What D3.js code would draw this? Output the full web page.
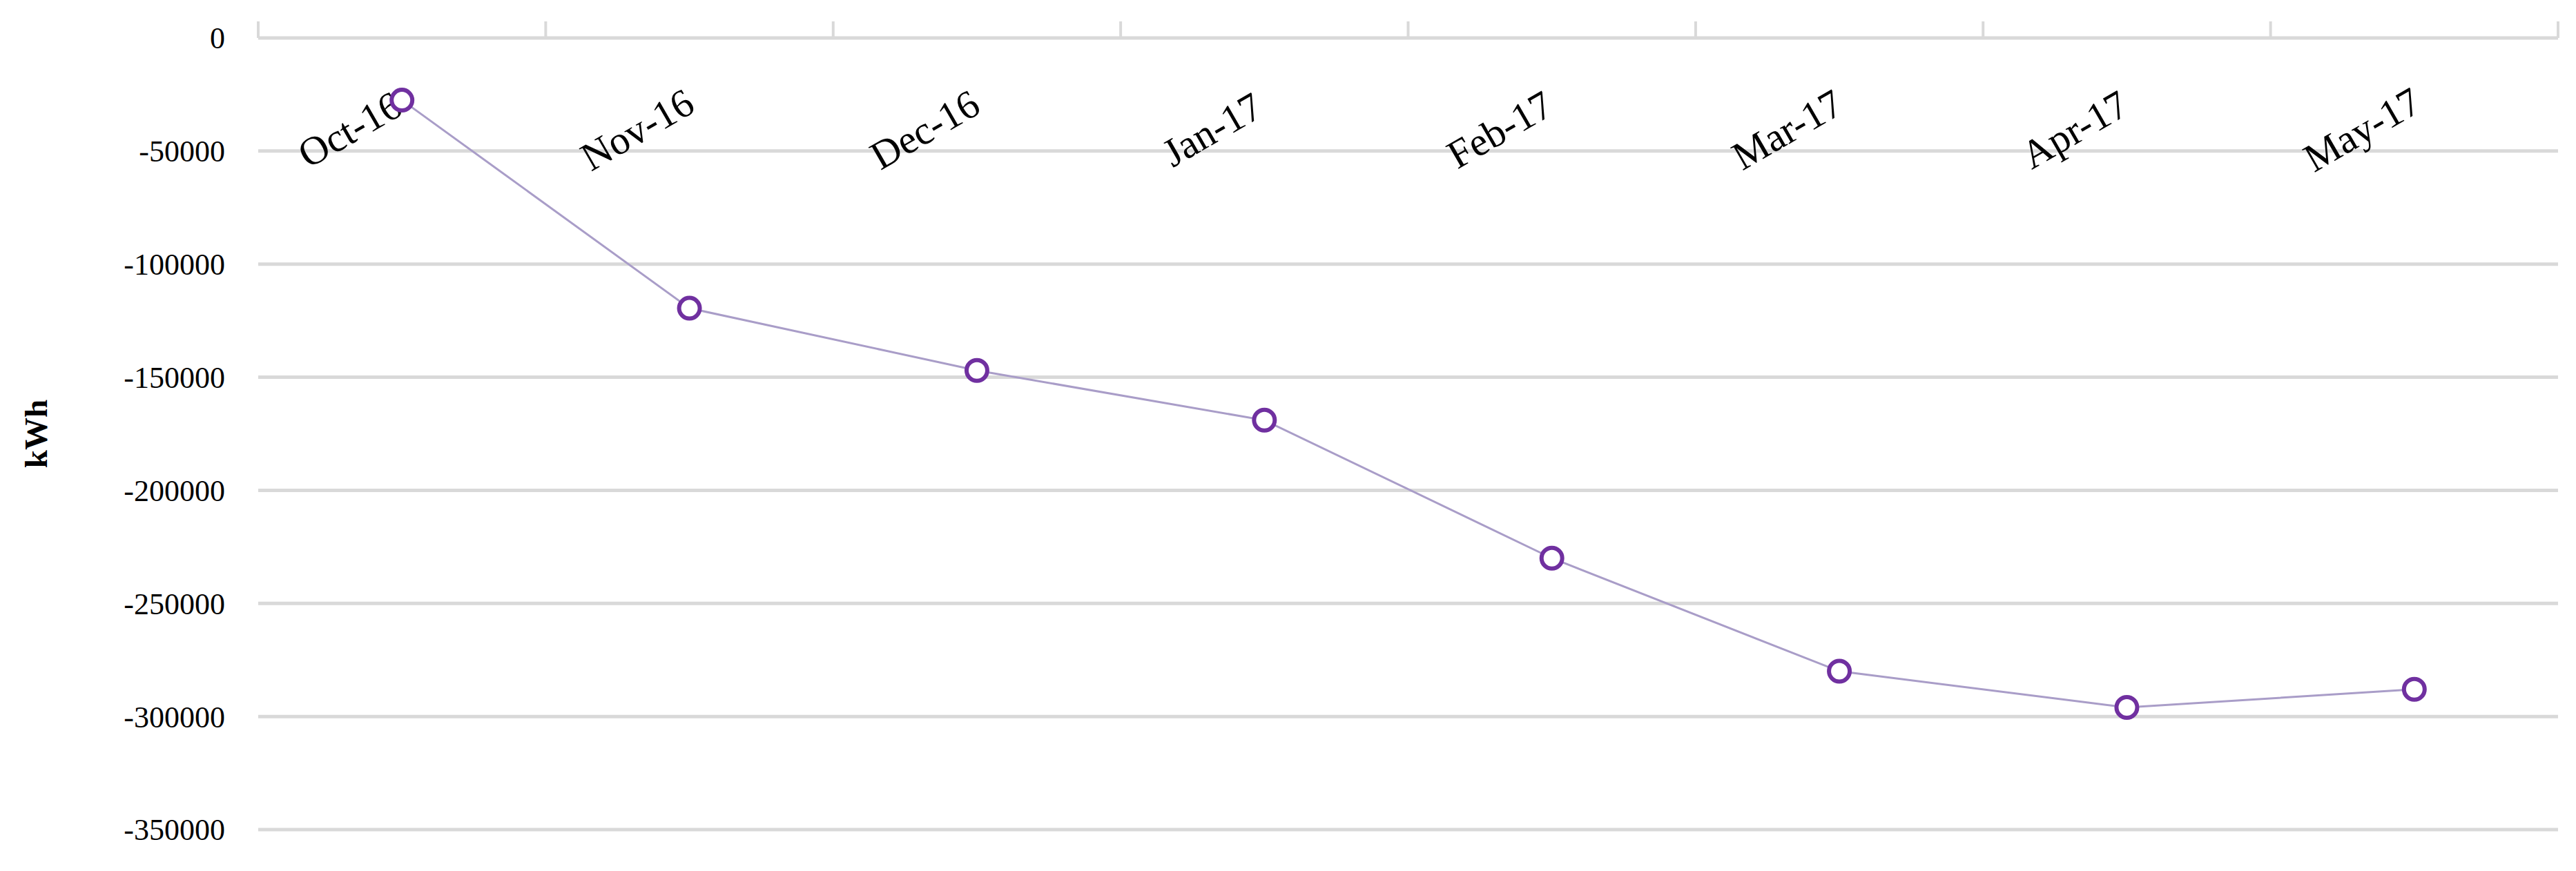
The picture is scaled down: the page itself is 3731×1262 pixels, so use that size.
<!DOCTYPE html>
<html><head><meta charset="utf-8">
<script src="https://cdn.jsdelivr.net/npm/d3@7"></script>
<style>body{margin:0;background:#fff}</style></head>
<body><svg id="c" width="3731" height="1262"></svg>
<script>
const categories=["Oct-16","Nov-16","Dec-16","Jan-17","Feb-17","Mar-17","Apr-17","May-17"];
const values=[-27500,-119500,-147000,-169000,-230000,-280000,-296000,-288000];
const yTicks=[0,-50000,-100000,-150000,-200000,-250000,-300000,-350000];
const svg=d3.select("#c");
const L=374,R=3705,T=55,B=1202;
const x=d3.scaleBand().domain(categories).range([L,R]);
const y=d3.scaleLinear().domain([-350000,0]).range([B,T]);
const font="'Liberation Serif','DejaVu Serif',serif";
svg.append("g").selectAll("line").data(yTicks).join("line")
 .attr("x1",L).attr("x2",R).attr("y1",d=>y(d)).attr("y2",d=>y(d))
 .attr("stroke","#d9d9d9").attr("stroke-width",5);
svg.append("g").selectAll("line").data(d3.range(categories.length+1)).join("line")
 .attr("x1",i=>L+i*x.step()).attr("x2",i=>L+i*x.step()).attr("y1",y(0)).attr("y2",y(0)-24)
 .attr("stroke","#d9d9d9").attr("stroke-width",4);
svg.append("g").selectAll("text").data(yTicks).join("text")
 .attr("x",326).attr("y",d=>y(d)).attr("dy","0.35em").attr("text-anchor","end")
 .attr("font-family",font).attr("font-size",44).attr("fill","#000").text(d=>d);
svg.append("g").selectAll("text").data(categories).join("text")
 .attr("transform",d=>`translate(${x(d)+x.bandwidth()/2-76},${y(0)+132}) rotate(-30)`)
 .attr("text-anchor","middle").attr("dy","0.35em")
 .attr("font-family",font).attr("font-size",58).attr("fill","#000").text(d=>d);
svg.append("text").attr("transform",`translate(52,${(T+B)/2}) rotate(-90)`)
 .attr("text-anchor","middle").attr("dy","0.35em").attr("font-weight","bold")
 .attr("font-family",font).attr("font-size",47).text("kWh");
const cx=(d,i)=>x(categories[i])+x.bandwidth()/2;
svg.append("path").datum(values)
 .attr("d",d3.line().x((d,i)=>cx(d,i)).y(d=>y(d)))
 .attr("fill","none").attr("stroke","#a99dc8").attr("stroke-width",3);
svg.append("g").selectAll("circle").data(values).join("circle")
 .attr("cx",cx).attr("cy",d=>y(d)).attr("r",15)
 .attr("fill","#fff").attr("stroke","#7030a0").attr("stroke-width",6);
</script></body></html>
